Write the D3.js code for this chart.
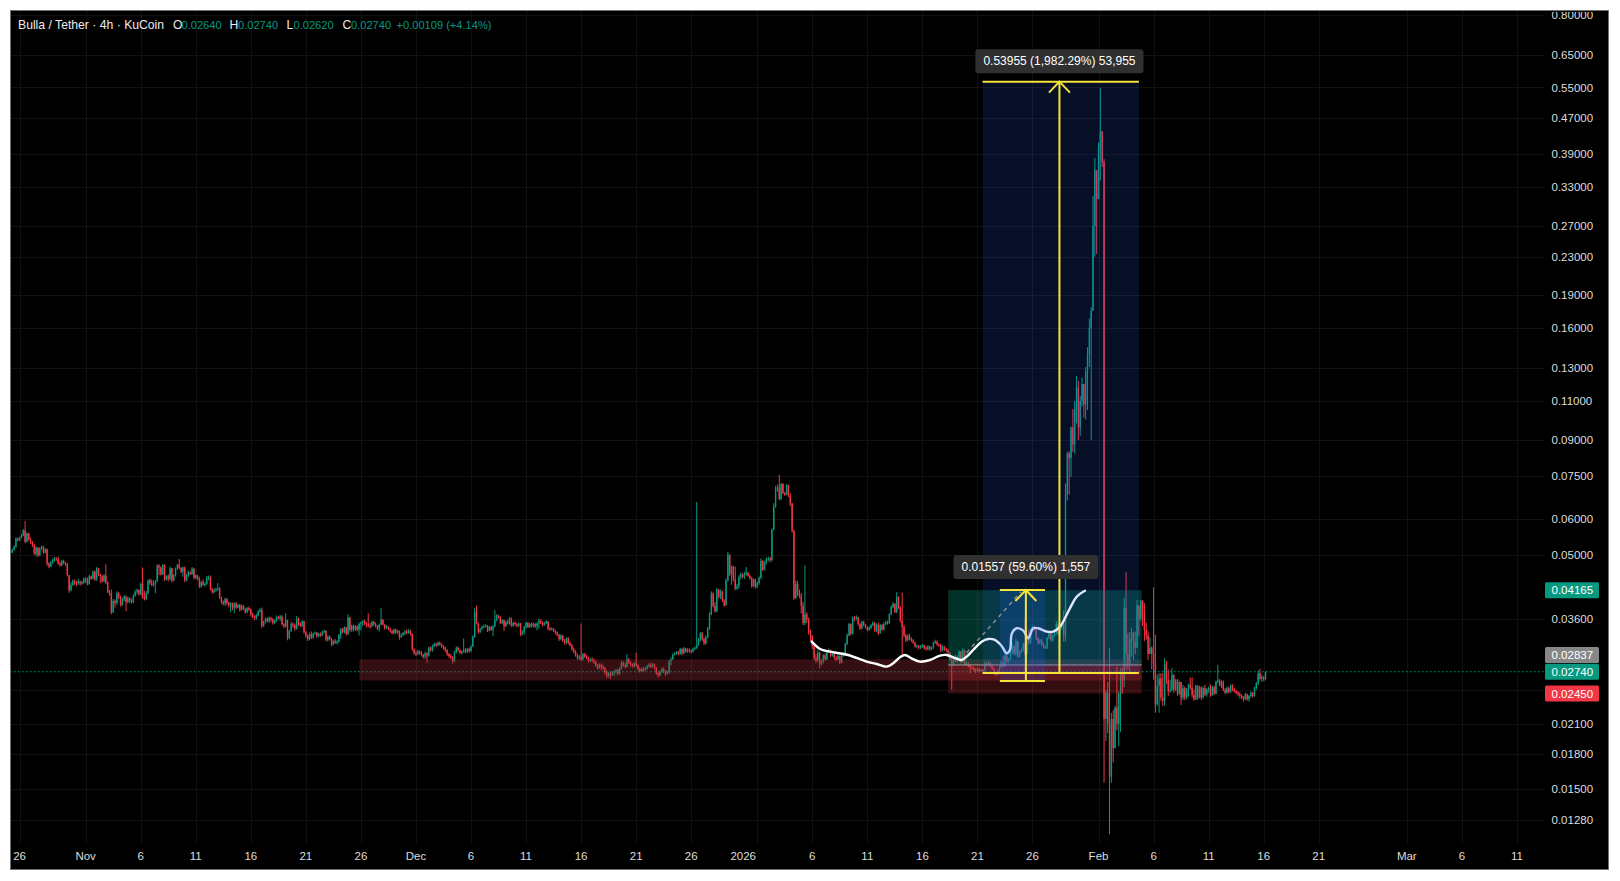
<!DOCTYPE html>
<html><head><meta charset="utf-8">
<script src="https://cdn.jsdelivr.net/npm/d3@7"></script>
<style>
html,body{margin:0;padding:0;background:#fff;}
svg{display:block;font-family:"Liberation Sans",Arial,sans-serif;}
</style></head><body>
<svg id="c" width="1620" height="881"></svg>
<script>
// ---------------- DATA ----------------
const PRICE_UNIT = 1e-4;               // candle values below are in units of 0.0001 USDT
const firstBarTime = Date.UTC(2025, 9, 25, 0);  // 4h bars
const BAR_MS = 4 * 3600 * 1000;
const firstOpen = 530;
const closes = [
522,505,512,520,543,538, 545,551,566,534,557,540, 531,524,502,518,498,516, 521,505,513,477,470,480,
486,490,488,478,473,484, 479,476,450,416,428,437, 434,431,436,431,434,441, 438,430,447,442,458,440,
466,452,447,436,449,433, 412,410,372,394,390,410, 402,386,398,403,392,399, 395,392,405,413,417,408,
430,402,398,410,438,432, 428,430,436,472,468,452, 474,440,448,441,466,438, 450,465,474,467,458,468,
438,449,457,452,465,444, 449,441,424,434,428,430, 442,446,419,412,416,418, 420,401,392,389,398,390,
385,389,380,389,381,386, 377,384,378,372,380,377, 368,363,361,366,373,376, 347,354,360,355,361,358,
352,356,363,360,364,350, 346,357,326,338,350,348, 342,360,351,347,355,336, 330,324,332,326,333,335,
329,333,330,336,338,323, 328,324,315,321,318,320, 331,341,336,344,333,362, 340,347,340,346,340,350,
352,355,352,350,347,346, 354,350,347,342,349,358, 349,343,345,341,338,334, 340,335,338,327,330,334,
337,334,338,333,308,302, 300,304,303,299,296,301, 298,310,306,313,316,314, 318,315,312,310,306,300,
297,295,289,303,310,306, 302,304,307,303,308,305, 312,328,373,351,336,341, 345,346,347,338,345,340,
346,357,366,363,352,357, 346,354,351,360,347,352, 350,347,351,332,336,345, 352,345,350,346,350,346,
351,356,353,348,352,355, 342,340,342,338,335,331, 324,330,322,318,325,318, 314,308,304,298,294,296,
292,300,296,294,290,292, 290,288,283,280,284,281, 279,273,268,272,270,273, 274,276,271,279,287,283,
281,292,287,285,282,286, 283,278,275,278,276,278, 282,284,281,284,279,272, 269,274,278,274,271,273,
289,292,299,301,303,300, 308,301,309,304,307,305, 304,308,310,314,323,334, 324,317,327,342,368,410,
384,374,418,402,414,395, 386,438,500,452,470,440, 420,425,445,452,446,452, 455,448,443,425,440,424,
432,444,484,462,480,488, 490,486,568,640,700,706, 665,718,686,680,714,676, 650,565,400,430,410,405,
385,352,368,358,336,330, 312,294,290,302,285,288, 298,292,303,306,297,302, 294,292,297,287,300,298,
316,330,350,333,362,360, 362,350,342,354,348,344, 340,343,348,352,338,349, 334,348,340,350,353,352,
368,382,388,372,402,380, 356,345,330,322,330,325, 322,318,312,313,310,312, 314,310,308,312,308,310,
318,320,315,314,306,312, 308,306,302,292,285,290, 296,290,304,288,306,285, 286,283,280,279,277,275,
278,275,277,275,286,285, 287,282,279,274,270,275, 280,288,282,298,288,292, 302,312,300,320,296,304,
306,316,300,328,318,340, 345,340,325,318,322,316, 312,310,326,334,322,330, 334,350,332,343,350,330,
680,840,820,960,880,1050, 1180,960,1100,1200,1080,1280, 1400,1600,1750,2700,3600,3100,
4000,4400,3750,215,246,210, 160,215,185,228,210,245, 270,262,380,300,285,325, 335,320,310,385,360,395,
370,340,330,300,310,300, 285,232,255,265,240,236, 285,262,248,250,270,250, 262,245,260,240,252,240,
250,256,252,243,238,255, 240,253,240,252,244,250, 252,243,253,245,260,262, 255,260,250,246,252,247,
255,250,248,246,244,242, 240,238,244,238,242,246, 242,252,258,272,264,266, 264,274
];
const highs = [
526,523,515,524,546,546, 548,556,570,594,560,559, 546,536,528,522,520,519, 524,523,517,516,481,484,
489,494,493,495,482,487, 487,481,479,442,434,440, 440,437,442,436,438,445, 445,444,451,449,461,461,
469,467,453,450,452,476, 436,417,418,398,397,414, 413,405,401,406,405,403, 402,399,408,416,420,418,
433,468,415,414,440,442, 440,438,438,476,476,471, 476,476,450,452,470,467, 452,468,477,489,469,470,
470,453,460,458,469,467, 452,451,446,437,440,434, 448,449,449,421,420,422, 432,423,403,395,401,400,
393,392,391,391,392,389, 388,387,386,381,382,383, 379,371,366,369,376,380, 381,356,362,362,364,363,
361,359,366,365,367,366, 352,370,358,340,354,353, 351,365,362,353,357,356, 338,332,335,337,335,337,
336,335,335,338,340,339, 330,330,326,323,324,322, 333,343,343,346,345,368, 363,349,349,348,347,353,
355,357,358,354,370,352, 356,356,353,348,351,380, 359,350,348,346,343,340, 342,342,340,339,334,336,
339,341,341,340,333,309, 305,307,306,305,300,304, 303,312,312,315,318,318, 320,320,317,314,312,308,
302,300,297,305,312,312, 307,306,325,309,310,310, 314,330,380,385,353,343, 347,349,350,348,347,346,
348,376,368,367,364,359, 358,356,358,363,362,354, 355,352,353,352,339,347, 354,354,352,353,353,352,
353,360,359,355,354,357, 355,345,344,343,340,337, 333,332,331,324,327,327, 320,316,310,306,301,299,
351,302,302,299,296,294, 295,293,290,285,286,286, 284,281,276,274,274,275, 276,278,278,281,290,289,
287,300,294,289,286,288, 302,285,280,280,281,281, 284,286,287,286,286,281, 274,276,280,280,276,276,
291,295,301,303,305,305, 310,309,311,310,309,309, 307,310,312,655,326,336, 336,326,330,345,372,414,
412,392,421,419,418,415, 398,442,507,500,473,472, 470,430,450,456,454,458, 469,458,452,446,442,442,
435,447,490,486,484,492, 495,494,572,651,712,716, 753,722,722,690,718,716, 686,652,568,438,437,418,
410,392,473,372,362,340, 330,315,300,306,304,292, 300,301,306,309,307,304, 304,297,300,298,302,302,
318,334,352,351,364,365, 366,363,352,356,356,350, 346,346,350,355,354,351, 352,350,350,353,356,356,
370,385,392,390,412,404, 384,411,348,333,332,333, 327,324,320,315,314,314, 316,315,312,314,313,312,
320,323,322,317,316,314, 313,310,308,303,294,293, 299,298,306,305,309,307, 289,288,285,282,281,279,
280,279,278,278,289,288, 289,288,284,280,275,277, 282,290,297,301,298,294, 304,318,314,325,321,306,
309,318,360,331,340,342, 348,347,342,327,324,324, 318,314,328,338,336,332, 338,356,352,345,352,376,
720,847,850,965,1056,1100, 1250,1220,1130,1240,1200,1310, 1450,1680,1780,3150,3830,3580,
4150,5480,4400,3810,250,260, 310,222,225,230,281,248, 280,280,400,457,334,336, 343,336,337,396,380,396,
393,390,353,337,327,312, 423,331,270,272,272,272, 294,290,277,263,279,270, 264,264,262,255,256,254,
252,258,266,266,250,256, 256,255,254,254,256,252, 254,257,255,255,262,284, 264,262,262,252,254,254,
257,257,252,250,248,247, 244,242,246,245,243,248, 247,254,260,276,278,270, 268,274
];
const lows = [
518,503,503,510,518,535, 536,543,549,530,532,537, 528,520,499,495,494,496, 512,502,503,472,466,469,
476,482,484,475,470,471, 476,472,447,411,414,426, 428,425,428,426,428,430, 432,427,428,439,440,437,
437,448,432,433,434,430, 410,405,368,370,381,386, 398,383,384,394,374,389, 390,389,390,403,408,405,
406,399,395,396,408,428, 425,424,410,434,450,449, 450,437,438,436,438,433, 436,447,462,464,454,446,
434,436,446,450,451,440, 441,438,421,422,426,424, 428,438,416,409,410,413, 415,398,388,385,384,386,
381,372,376,370,378,380, 373,375,376,369,370,374, 364,361,357,358,364,371, 343,345,351,353,352,354,
349,350,354,358,356,347, 343,344,322,324,336,343, 338,340,347,344,345,333, 326,321,322,324,325,331,
326,327,328,329,334,320, 320,322,312,314,316,315, 318,324,334,334,330,331, 337,336,337,338,337,330,
339,346,348,344,344,342, 344,347,344,339,337,348, 347,340,341,339,335,332, 332,333,332,323,326,329,
331,332,333,330,305,299, 297,298,299,296,293,293, 287,296,304,304,311,311, 312,313,310,307,303,297,
294,292,286,288,301,304, 300,299,302,301,302,302, 303,311,326,349,333,334, 340,343,344,336,337,338,
329,344,355,360,350,350, 338,345,349,349,345,345, 347,344,345,329,330,332, 342,343,343,344,344,343,
339,342,350,346,347,350, 339,338,339,336,332,329, 321,322,319,315,316,315, 312,305,301,296,291,291,
289,290,294,292,287,288, 288,285,281,277,278,276, 277,270,265,266,264,268, 268,271,269,270,277,281,
279,280,285,281,280,280, 281,276,273,274,274,275, 277,280,279,280,277,270, 266,268,272,272,268,270,
271,283,291,298,299,298, 299,298,300,302,302,302, 301,302,306,308,313,320, 321,314,315,325,340,366,
381,371,372,399,398,392, 382,384,435,448,428,436, 416,417,420,440,443,441, 449,446,440,422,423,420,
421,428,440,460,461,476, 483,480,483,566,636,690, 660,662,682,676,678,672, 641,560,396,398,404,400,
370,348,348,352,332,320, 308,291,286,288,279,283, 286,290,291,302,295,296, 291,289,291,285,286,296,
297,314,329,330,332,355, 357,347,339,341,346,342, 337,338,341,346,336,336, 331,333,338,339,348,349,
350,366,380,370,370,378, 353,296,327,319,320,322, 319,316,310,309,307,308, 310,307,305,306,305,306,
308,316,313,311,303,304, 305,303,300,290,250,283, 288,287,289,286,287,283, 283,280,271,277,274,272,
274,273,274,273,274,282, 283,280,277,271,268,269, 273,279,280,281,286,286, 291,300,298,298,294,295,
302,304,298,300,315,316, 338,338,322,315,316,313, 309,308,308,324,320,320, 328,332,330,330,340,320,
320,660,680,745,847,840, 980,900,920,1070,1010,1000, 1050,1310,900,1750,2310,2340,
3130,3410,3660,155,192,200, 119,155,172,185,203,187, 201,245,253,277,277,270, 296,291,300,310,330,356,
346,321,323,291,301,277, 263,222,230,222,236,230, 230,257,242,246,248,246, 248,242,243,231,237,237,
238,241,250,240,236,237, 237,239,237,239,242,241, 246,241,242,243,244,258, 254,252,248,244,245,245,
246,248,246,244,242,239, 238,235,237,236,235,240, 240,241,250,256,262,260, 261,262
];

const priceTicks = [0.8,0.65,0.55,0.47,0.39,0.33,0.27,0.23,0.19,0.16,0.13,0.11,0.09,0.075,0.06,0.05,0.036,0.025,0.021,0.018,0.015,0.0128];
// [date, label, horizontal nudge of the label in px]
const timeTicks = [
 ["2025-10-26","26",0],["2025-11-01","Nov",0],["2025-11-06","6",0],["2025-11-11","11",0],["2025-11-16","16",0],["2025-11-21","21",0],["2025-11-26","26",0],
 ["2025-12-01","Dec",0],["2025-12-06","6",0],["2025-12-11","11",0],["2025-12-16","16",0],["2025-12-21","21",0],["2025-12-26","26",0],
 ["2026-01-01","2026",-14],["2026-01-06","6",0],["2026-01-11","11",0],["2026-01-16","16",0],["2026-01-21","21",0],["2026-01-26","26",0],
 ["2026-02-01","Feb",0],["2026-02-06","6",0],["2026-02-11","11",0],["2026-02-16","16",0],["2026-02-21","21",0],
 ["2026-03-01","Mar",0],["2026-03-06","6",0],["2026-03-11","11",0]
];
const lastPrice = 0.02740;
const header = {title:"Bulla / Tether · 4h · KuCoin", O:"0.02640", H:"0.02740", L:"0.02620", C:"0.02740", change:"+0.00109 (+4.14%)"};

// drawings (positions in bar index units from firstBarTime, prices in USDT)
const supportZone = {fromBar:191.2, toBar:617.5, top:0.0292, bottom:0.0262};
const longPosition = {fromBar:512.1, toBar:617.5, target:0.04165, entry:0.02837, stop:0.0245};
const measureBig = {fromBar:530.8, toBar:616.0, atBar:572.7, low:0.02722, high:0.56677, text:"0.53955 (1,982.29%) 53,955"};
const measureSmall = {fromBar:540.2, toBar:564.8, atBar:554.4, low:0.02612, high:0.04169, text:"0.01557 (59.60%) 1,557"};
const dashedTrend = [[522.1,0.0302],[551.7,0.0413]];
const brushPath = [[437.7,0.03198],[442.2,0.0308],[447.6,0.03037],[457.5,0.02986],[467.6,0.02886],[473.1,0.02851],[478.5,0.02813],[482.1,0.02862],[485.8,0.02951],[488.5,0.02986],[492.1,0.02936],[496.7,0.02886],[502.1,0.0291],[507.6,0.02976],[511.2,0.02986],[514.8,0.02951],[519.4,0.0291],[522.1,0.0296],[525.7,0.03064],[530.3,0.03198],[533.9,0.03242],[537.5,0.03226],[541.2,0.03128],[543.9,0.03013],[545.7,0.03064],[546.8,0.03339],[549.4,0.03425],[553.0,0.03383],[555.7,0.03254],[558.4,0.03425],[561.1,0.03425],[565.7,0.03366],[569.3,0.03366],[573.0,0.03454],[578.4,0.03795],[582.1,0.04028],[586.6,0.04154]];
const axisLabels = [
 {v:0.04165, bg:"#089981", shift:0},
 {v:0.02837, bg:"#878787", shift:-10},
 {v:0.02740, bg:"#089981", shift:0},
 {v:0.02450, bg:"#f23645", shift:0}
];

// ---------------- CHART ----------------
const W = 1620, H = 881;
const plot = {left:10, right:1544, top:10, bottom:843};
const UP = "#089981", DOWN = "#f23645", YELLOW = "#f7e43a";
const svg = d3.select("#c");
const x = d3.scaleUtc().domain([Date.UTC(2025,9,26), Date.UTC(2026,2,11)]).range([19.6, 1516.9]);
const y = d3.scaleLog().domain([0.8, 0.0128]).range([14.5, 820]);
const bx = b => x(new Date(firstBarTime + b * BAR_MS));
const fmt = d3.format(".5f");

svg.append("rect").attr("width", W).attr("height", H).attr("fill", "#fff");
svg.append("rect").attr("x", 10.5).attr("y", 10.5).attr("width", 1598).attr("height", 859)
  .attr("fill", "#000").attr("stroke", "#707070");

const defs = svg.append("defs");
defs.append("clipPath").attr("id", "pc").append("rect")
  .attr("x", plot.left + 1).attr("y", plot.top + 1)
  .attr("width", plot.right - plot.left - 1).attr("height", plot.bottom - plot.top - 1);
defs.append("clipPath").attr("id", "fc").append("rect")
  .attr("x", 11).attr("y", 12).attr("width", 1597).attr("height", 857);
const g = svg.append("g").attr("clip-path", "url(#pc)");

// grid
const tt = timeTicks.map(d => ({t: new Date(d[0] + "T00:00:00Z"), s: d[1], dx: d[2]}));
g.append("g").selectAll("line").data(tt).join("line")
  .attr("x1", d => Math.round(x(d.t)) + 0.5).attr("x2", d => Math.round(x(d.t)) + 0.5)
  .attr("y1", plot.top).attr("y2", plot.bottom).attr("stroke", "#111");
g.append("g").selectAll("line").data(priceTicks).join("line")
  .attr("y1", d => Math.round(y(d)) + 0.5).attr("y2", d => Math.round(y(d)) + 0.5)
  .attr("x1", plot.left).attr("x2", plot.right).attr("stroke", "#111");

// candles
const bars = closes.map((c, i) => {
  const o = i ? closes[i - 1] : firstOpen;
  return {t: new Date(firstBarTime + i * BAR_MS), o: o * PRICE_UNIT, c: c * PRICE_UNIT,
    h: Math.max(highs[i], o, c) * PRICE_UNIT, l: Math.min(lows[i], o, c) * PRICE_UNIT};
});
const cg = g.append("g");
cg.selectAll("line").data(bars).join("line")
  .attr("x1", d => x(d.t)).attr("x2", d => x(d.t))
  .attr("y1", d => y(d.h)).attr("y2", d => y(d.l))
  .attr("stroke", d => d.c >= d.o ? UP : DOWN).attr("stroke-width", 1);
cg.selectAll("rect").data(bars).join("rect")
  .attr("x", d => x(d.t) - 0.7).attr("width", 1.4)
  .attr("y", d => y(Math.max(d.o, d.c)))
  .attr("height", d => Math.max(1, Math.abs(y(d.o) - y(d.c))))
  .attr("fill", d => d.c >= d.o ? UP : DOWN);

// last price dotted line
g.append("line").attr("x1", plot.left).attr("x2", plot.right)
  .attr("y1", y(lastPrice)).attr("y2", y(lastPrice))
  .attr("stroke", UP).attr("stroke-dasharray", "1.5,2.5");

// support zone
g.append("rect").attr("x", bx(supportZone.fromBar)).attr("width", bx(supportZone.toBar) - bx(supportZone.fromBar))
  .attr("y", y(supportZone.top)).attr("height", y(supportZone.bottom) - y(supportZone.top))
  .attr("fill", "rgba(160,45,52,0.33)");

// long position
const lpX0 = bx(longPosition.fromBar), lpX1 = bx(longPosition.toBar);
g.append("rect").attr("x", lpX0).attr("width", lpX1 - lpX0)
  .attr("y", y(longPosition.target)).attr("height", y(longPosition.entry) - y(longPosition.target))
  .attr("fill", "rgba(8,153,129,0.33)");
g.append("rect").attr("x", lpX0).attr("width", lpX1 - lpX0)
  .attr("y", y(longPosition.entry)).attr("height", y(longPosition.stop) - y(longPosition.entry))
  .attr("fill", "rgba(242,54,69,0.22)");
g.append("line").attr("x1", lpX0).attr("x2", lpX1)
  .attr("y1", y(longPosition.entry)).attr("y2", y(longPosition.entry))
  .attr("stroke", "#a0a0a0").attr("stroke-width", 1);

// brush curve
g.append("path").datum(brushPath)
  .attr("d", d3.line().x(d => bx(d[0])).y(d => y(d[1])).curve(d3.curveCatmullRom.alpha(0.5)))
  .attr("fill", "none").attr("stroke", "#fff").attr("stroke-width", 2.4).attr("stroke-linecap", "round");

// measure fills
function measureFill(m, alpha) {
  g.append("rect").attr("x", bx(m.fromBar)).attr("width", bx(m.toBar) - bx(m.fromBar))
    .attr("y", y(m.high)).attr("height", y(m.low) - y(m.high))
    .attr("fill", `rgba(41,98,255,${alpha})`);
}
measureFill(measureBig, 0.15);
measureFill(measureSmall, 0.18);

// dashed trend
g.append("line").attr("x1", bx(dashedTrend[0][0])).attr("y1", y(dashedTrend[0][1]))
  .attr("x2", bx(dashedTrend[1][0])).attr("y2", y(dashedTrend[1][1]))
  .attr("stroke", "#8c8c8c").attr("stroke-width", 1.5).attr("stroke-dasharray", "4,4");

// measure lines + labels
function measureLines(m, labelGap) {
  const x0 = bx(m.fromBar), x1 = bx(m.toBar), xa = bx(m.atBar), yt = y(m.high), yb = y(m.low);
  const L = g.append("g").attr("stroke", YELLOW).attr("stroke-width", 2).attr("fill", "none");
  L.append("line").attr("x1", x0).attr("x2", x1).attr("y1", yt).attr("y2", yt);
  L.append("line").attr("x1", x0).attr("x2", x1).attr("y1", yb).attr("y2", yb);
  L.append("line").attr("x1", xa).attr("x2", xa).attr("y1", yt).attr("y2", yb);
  L.append("path").attr("d", `M${xa - 10.5},${yt + 11} L${xa},${yt} L${xa + 10.5},${yt + 11}`);
  const lab = svg.append("g");
  const txt = lab.append("text").attr("x", xa).attr("y", yt - labelGap - 8).attr("text-anchor", "middle")
    .attr("font-size", 12).attr("fill", "#fff").text(m.text);
  const w = txt.node().getComputedTextLength() + 16;
  lab.insert("rect", "text").attr("x", xa - w / 2).attr("y", yt - labelGap - 24).attr("width", w).attr("height", 24)
    .attr("rx", 3).attr("fill", "#303030");
}
measureLines(measureSmall, 11);
measureLines(measureBig, 8.5);

// ---------------- AXES ----------------
const ax = svg.append("g").attr("clip-path", "url(#fc)").attr("font-size", 11.5).attr("fill", "#dedede");
ax.selectAll("text.pt").data(priceTicks).join("text").attr("class", "pt")
  .attr("x", 1551.5).attr("y", d => y(d)).attr("dy", "0.35em").text(d => fmt(d));
ax.selectAll("text.tt").data(tt).join("text").attr("class", "tt")
  .attr("x", d => x(d.t) + d.dx).attr("y", 856).attr("dy", "0.35em").attr("text-anchor", "middle").text(d => d.s);

const al = svg.append("g").selectAll("g").data(axisLabels).join("g")
  .attr("transform", d => `translate(1545,${y(d.v) + d.shift})`);
al.append("rect").attr("x", 0).attr("y", -8).attr("width", 54).attr("height", 16).attr("rx", 1.5).attr("fill", d => d.bg);
al.append("text").attr("x", 6.5).attr("dy", "0.36em").attr("font-size", 11.5).attr("fill", "#fff").text(d => fmt(d.v));

// header (pieces placed where the reference shows them)
const hdr = svg.append("g");
const hText = (str, xPos, color, size) => hdr.append("text").attr("x", xPos).attr("y", 29)
  .attr("fill", color).attr("font-size", size).text(str);
hText(header.title, 18, "#ececec", 12.2);
[["O", header.O, 173, 181.5], ["H", header.H, 229.5, 238], ["L", header.L, 286.5, 293.5], ["C", header.C, 342.5, 351]]
  .forEach(p => { hText(p[0], p[2], "#ececec", 12.2); hText(p[1], p[3], UP, 11.1); });
hText(header.change, 396.5, UP, 11.1);
</script>
</body></html>
